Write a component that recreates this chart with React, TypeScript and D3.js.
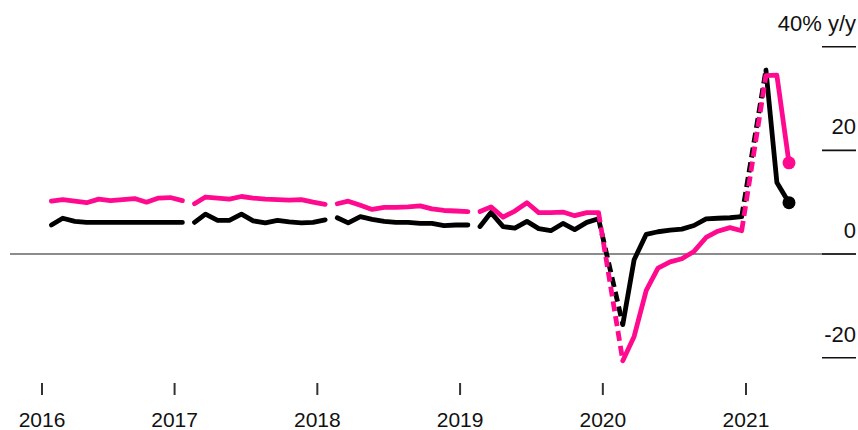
import React from "react";
import * as d3 from "d3";

// monthly points, Feb 2016 .. Apr 2021 (Jan 2020 / Jan 2021 come as a combined Jan-Feb print)
const months: Date[] = d3.timeMonth.range(new Date(2016, 1, 1), new Date(2021, 4, 1));

const retail: (number | null)[] = [
  10.2, 10.5, 10.2, 9.9, 10.6, 10.3, 10.5, 10.7, 10.0, 10.8, 10.9, 10.3,
  9.7, 11.0, 10.8, 10.6, 11.1, 10.8, 10.6, 10.5, 10.4, 10.5, 10.0, 9.6,
  9.7, 10.2, 9.4, 8.6, 9.0, 9.0, 9.1, 9.3, 8.7, 8.4, 8.3, 8.2,
  8.2, 9.1, 7.1, 8.3, 9.9, 8.0, 8.0, 8.1, 7.4, 8.0, 8.0, null,
  -20.6, -15.9, -7.0, -2.7, -1.5, -0.9, 0.5, 3.2, 4.4, 5.1, 4.5, null,
  34.4, 34.5, 17.6,
];

const industry: (number | null)[] = [
  5.6, 6.9, 6.3, 6.1, 6.1, 6.1, 6.1, 6.1, 6.1, 6.1, 6.1, 6.1,
  6.1, 7.7, 6.5, 6.5, 7.7, 6.4, 6.0, 6.5, 6.2, 6.0, 6.1, 6.6,
  7.0, 6.0, 7.2, 6.7, 6.3, 6.1, 6.1, 5.9, 5.9, 5.5, 5.6, 5.6,
  5.3, 8.0, 5.3, 5.0, 6.3, 4.9, 4.5, 5.9, 4.7, 6.1, 6.8, null,
  -13.6, -1.1, 3.8, 4.3, 4.6, 4.8, 5.5, 6.8, 6.9, 7.0, 7.2, null,
  35.5, 13.8, 9.9,
];

const years = [2016, 2017, 2018, 2019, 2020, 2021];
const yTicks = [40, 20, 0, -20];

const W = 858;
const H = 430;
const PINK = "#ff0a8f";
const FONT = "'Liberation Sans', Arial, Helvetica, sans-serif";

const x = d3
  .scaleTime()
  .domain([new Date(2016, 0, 28), new Date(2021, 5, 30)])
  .range([42, 42 + 0.3911 * 1980])
  .clamp(true);

const y = d3.scaleLinear().domain([40, -20]).range([46.7, 357.7]);

const line = d3.line<[number, number]>();

function buildPaths(values: (number | null)[]) {
  const solid: [number, number][][] = [];
  const dashed: [number, number][][] = [];
  let cur: [number, number][] = [];
  const pt = (i: number): [number, number] => [
    x(d3.timeDay.offset(months[i], 20)),
    y(values[i] as number),
  ];
  months.forEach((m, i) => {
    if (m.getMonth() === 1 && cur.length) {
      solid.push(cur);
      cur = [];
    }
    if (values[i] == null) {
      if (i > 0 && i < values.length - 1) dashed.push([pt(i - 1), pt(i + 1)]);
      return;
    }
    cur.push(pt(i));
  });
  if (cur.length) solid.push(cur);
  const last = pt(values.length - 1);
  return { solid, dashed, last };
}

const Series = ({ values, color }: { values: (number | null)[]; color: string }) => {
  const { solid, dashed, last } = buildPaths(values);
  return (
    <g>
      {solid.map((s, i) => (
        <path
          key={"s" + i}
          d={line(s) || ""}
          fill="none"
          stroke={color}
          strokeWidth={4.8}
          strokeLinejoin="round"
          strokeLinecap="round"
        />
      ))}
      {dashed.map((s, i) => (
        <path
          key={"d" + i}
          d={line(s) || ""}
          fill="none"
          stroke={color}
          strokeWidth={4.8}
          strokeDasharray="10,5"
        />
      ))}
      <circle cx={last[0]} cy={last[1]} r={6.5} fill={color} />
    </g>
  );
};

const App = () => {
  const tickX1 = 822;
  const tickX2 = 856;
  return (
    <svg
      width={W}
      height={H}
      style={{ position: "absolute", left: 0, top: 0, background: "#fff" }}
      fontFamily={FONT}
    >
      {/* zero line */}
      <line x1={10} x2={tickX2} y1={y(0)} y2={y(0)} stroke="#666" strokeWidth={1.4} />

      {/* y axis on the right */}
      {yTicks.map((t) => (
        <g key={t}>
          <line x1={tickX1} x2={tickX2} y1={y(t)} y2={y(t)} stroke="#111" strokeWidth={1.6} />
          <text x={tickX2} y={y(t) - 16} textAnchor="end" fontSize={22} fill="#111">
            {t === 40 ? "40% y/y" : t}
          </text>
        </g>
      ))}

      {/* x axis */}
      {years.map((yr) => {
        const xx = x(new Date(yr, 0, 1));
        return (
          <g key={yr}>
            <line x1={xx} x2={xx} y1={383} y2={395} stroke="#333" strokeWidth={2} />
            <text x={xx} y={427} textAnchor="middle" fontSize={21} fill="#111">
              {yr}
            </text>
          </g>
        );
      })}

      <Series values={industry} color="#000" />
      <Series values={retail} color={PINK} />
    </svg>
  );
};

export default App;
